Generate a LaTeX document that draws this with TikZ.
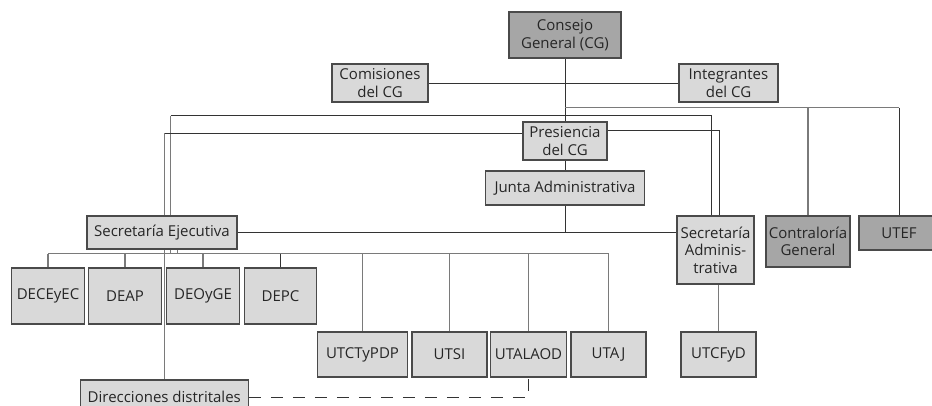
\documentclass[tikz,border=0pt]{standalone}
\usepackage{fontspec}
\setmainfont{Open Sans}
\usetikzlibrary{backgrounds}
\definecolor{lightfill}{HTML}{D9D9D9}
\definecolor{darkfill}{HTML}{A6A6A6}
\definecolor{boxline}{HTML}{4A4A4A}
\definecolor{darkline}{HTML}{333333}
\definecolor{grayline}{HTML}{7A7A7A}
\tikzset{
  lbox/.style={draw=boxline, line width=1.2pt, fill=lightfill, inner sep=0pt, align=center,
    font=\fontsize{15}{17.5}\selectfont, text=black!85},
  dbox/.style={lbox, fill=darkfill},
  dl/.style={draw=darkline, line width=0.9pt},
  gl/.style={draw=grayline, line width=1.1pt},
  dashl/.style={draw=darkline, line width=1pt, dash pattern=on 12pt off 10pt}
}
\begin{document}
\begin{tikzpicture}[x=1pt,y=-1pt]
\useasboundingbox (0,0) rectangle (932,406);
\clip (0,0) rectangle (932,406);
% nodes
\node[dbox, minimum width=112pt, minimum height=46pt] (cg) at (565,35) {Consejo\\General (CG)};
\node[lbox, minimum width=96pt, minimum height=38pt] (com) at (380,83) {Comisiones\\del CG};
\node[lbox, minimum width=99pt, minimum height=38pt] (int) at (728.5,83) {Integrantes\\del CG};
\node[lbox, minimum width=84pt, minimum height=38pt] (pres) at (565,141) {Presiencia\\del CG};
\node[lbox, minimum width=159pt, minimum height=34pt] (junta) at (565,188) {Junta Administrativa};
\node[lbox, minimum width=150pt, minimum height=33pt] (se) at (162,232.5) {Secretaría Ejecutiva};
\node[lbox, minimum width=77pt, minimum height=68pt] (sa) at (715.5,250) {Secretaría\\Adminis-\\trativa};
\node[dbox, minimum width=84pt, minimum height=51pt] (contr) at (808,241.5) {Contraloría\\General};
\node[dbox, minimum width=80pt, minimum height=34pt] (utef) at (899,233) {UTEF};
\node[lbox, minimum width=75pt, minimum height=45pt] (utcfyd) at (718.5,354.5) {UTCFyD};
\node[lbox, minimum width=72.6pt, minimum height=56pt] (decey) at (48,296) {DECEyEC};
\node[lbox, minimum width=73.4pt, minimum height=56pt] (deap) at (125,296) {DEAP};
\node[lbox, minimum width=72.6pt, minimum height=56pt] (deoyge) at (203,296) {DEOyGE};
\node[lbox, minimum width=72.4pt, minimum height=56pt] (depc) at (280.5,296) {DEPC};
\node[lbox, minimum width=90pt, minimum height=45pt] (utct) at (362.5,354.5) {UTCTyPDP};
\node[lbox, minimum width=75pt, minimum height=45pt] (utsi) at (449.5,354.5) {UTSI};
\node[lbox, minimum width=75.4pt, minimum height=45pt] (utala) at (528.5,354.5) {UTALAOD};
\node[lbox, minimum width=75pt, minimum height=45pt] (utaj) at (608.5,354.5) {UTAJ};
\node[lbox, minimum width=168pt, minimum height=34pt] (dd) at (164.3,397) {Direcciones distritales};
% helper coordinates for connector bends
\coordinate (gA) at (565,107.7);
\coordinate (gB) at (899,107.7);
\coordinate (gC) at (808,107.7);
\coordinate (cL) at (170.7,115.7);
\coordinate (cR) at (711,115.7);
\coordinate (pL) at (164.3,133.5);
\coordinate (pR) at (719,130.7);
\coordinate (busL) at (48,253.8);
\coordinate (busR) at (608.5,253.8);
\coordinate (seT) at (177.3,253.8);
\coordinate (cB) at (170.7,253.8);
\begin{pgfonlayer}{background}
  % Consejo General spine
  \draw[dl] (cg.south) -- (pres.north);
  \draw[dl] (com.east) -- (int.west);
  % grey branch to Contraloria and UTEF
  \draw[gl] (gA) -- (gB);
  \draw[dl] (gB) -- (utef.north);
  \draw[gl] (gC) -- (contr.north);
  % CG to SE / SA
  \draw[gl] (cB) -- (cL);
  \draw[dl] (cL) -- (cR) -- (cR |- sa.north);
  % Presidencia to SE / SA
  \draw[dl] (pres.west |- pL) -- (pL);
  \draw[gl] (pL) -- (dd.north);
  \draw[dl] (pres.east |- pR) -- (pR) -- (pR |- sa.north);
  % Presidencia - Junta - line
  \draw[dl] (pres.south) -- (junta.north);
  \draw[dl] (junta.south) -- (junta.south |- se.east);
  \draw[dl] (se.east) -- (se.east -| sa.west);
  % SE bus
  \draw[gl] (seT |- se.south) -- (seT);
  \draw[gl] (busL) -- (busR);
  \draw[gl] (busL) -- (decey.north);
  \draw[gl] (busL -| deap.north) -- (deap.north);
  \draw[gl] (busL -| deoyge.north) -- (deoyge.north);
  \draw[dl] (busL -| depc.north) -- (depc.north);
  \draw[gl] (busL -| utct.north) -- (utct.north);
  \draw[gl] (busL -| utsi.north) -- (utsi.north);
  \draw[gl] (busL -| utala.north) -- (utala.north);
  \draw[gl] (busR) -- (utaj.north);
  % SA to UTCFyD
  \draw[gl] (sa.south -| utcfyd.north) -- (utcfyd.north);
  % dashed
  \draw[dashl] (dd.east) -- (dd.east -| utala.south) -- (utala.south);
\end{pgfonlayer}
\end{tikzpicture}
\end{document}
